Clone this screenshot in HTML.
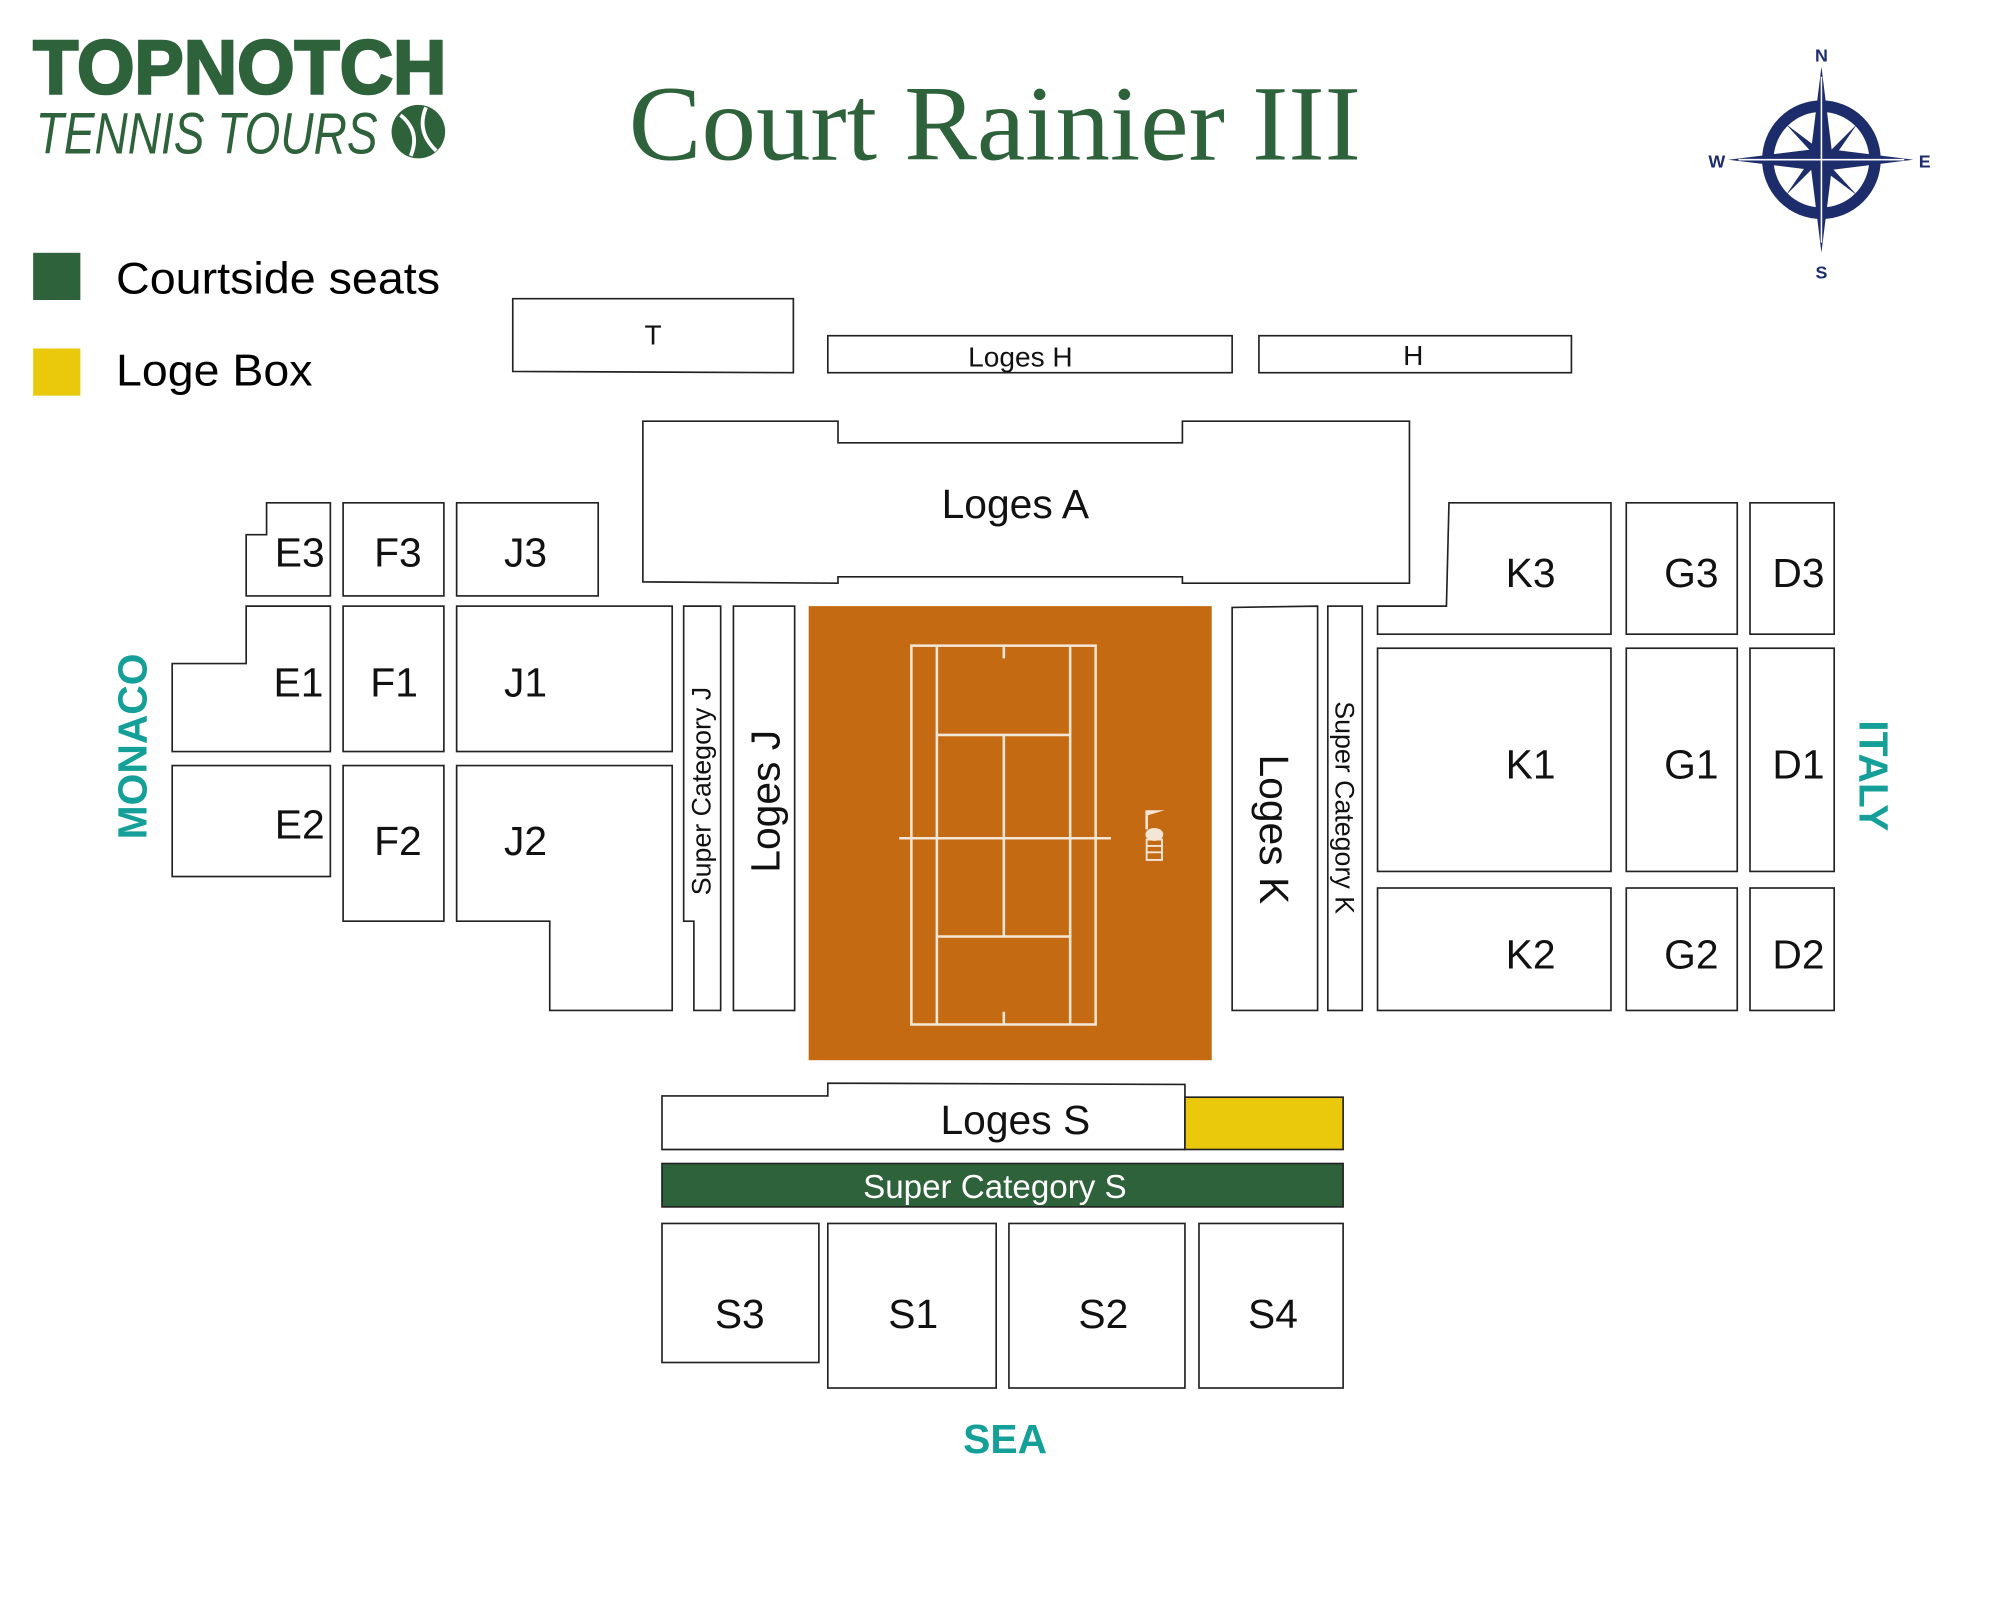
<!DOCTYPE html>
<html><head><meta charset="utf-8"><style>html,body{margin:0;padding:0;background:#fff}svg{display:block}</style></head>
<body>
<svg width="2000" height="1600" viewBox="0 0 1568 1254" xmlns="http://www.w3.org/2000/svg" font-family="Liberation Sans, sans-serif">
<rect width="1568" height="1254" fill="#fff"/>
<!-- logo -->
<text x="26" y="73" font-size="60" font-weight="bold" fill="#2e623b" textLength="324" lengthAdjust="spacingAndGlyphs" stroke="#2e623b" stroke-width="2">TOPNOTCH</text>
<text x="28" y="120" font-size="46" font-style="italic" fill="#2e623b" textLength="268" lengthAdjust="spacingAndGlyphs" style="font-weight:100">TENNIS TOURS</text>
<circle cx="328" cy="103" r="21" fill="#2e623b"/>
<path d="M314,90 Q330,103 322,122 M334,84 Q326,103 342,118" stroke="#fff" stroke-width="3" fill="none"/>
<!-- title -->
<text x="780" y="125" font-size="84" font-family="Liberation Serif, serif" fill="#2e623b" text-anchor="middle" textLength="574" lengthAdjust="spacingAndGlyphs">Court Rainier III</text>
<!-- compass -->
<g fill="#1d2d6b">
<circle cx="1428" cy="125" r="42" fill="none" stroke="#1d2d6b" stroke-width="9"/>
<polygon points="1428,52 1436,117 1500,125 1436,133 1428,198 1420,133 1355,125 1420,117"/>
<polygon points="1400,97 1432,121 1456,97 1434,129 1456,153 1424,129 1400,153 1422,121" />
<path d="M1428,60 L1428,190 M1363,125 L1493,125" stroke="#fff" stroke-width="1.2"/>
<text x="1428" y="48" font-size="14" font-weight="bold" text-anchor="middle">N</text>
<text x="1428" y="218" font-size="14" font-weight="bold" text-anchor="middle">S</text>
<text x="1346" y="131" font-size="14" font-weight="bold" text-anchor="middle">W</text>
<text x="1509" y="131" font-size="14" font-weight="bold" text-anchor="middle">E</text>
</g>
<!-- legend -->
<rect x="26" y="198" width="37" height="37" fill="#2e623b"/>
<text x="91" y="230" font-size="35" textLength="254" lengthAdjust="spacingAndGlyphs">Courtside seats</text>
<rect x="26" y="273" width="37" height="37" fill="#eac90d"/>
<text x="91" y="302" font-size="35" textLength="154" lengthAdjust="spacingAndGlyphs">Loge Box</text>
<!-- sections -->
<g fill="#fff" stroke="#222" stroke-width="1.3">
<polygon points="402,234 622,234 622,292 402,291"/>
<rect x="649" y="263" width="317" height="29"/>
<rect x="987" y="263" width="245" height="29"/>
<polygon points="504,330 657,330 657,347 927,347 927,330 1105,330 1105,457 927,457 927,452 657,452 657,457 504,456"/>
<polygon points="209,394 259,394 259,467 193,467 193,419 209,419"/>
<rect x="269" y="394" width="79" height="73"/>
<rect x="358" y="394" width="111" height="73"/>
<polygon points="193,475 259,475 259,589 135,589 135,520 193,520"/>
<rect x="269" y="475" width="79" height="114"/>
<rect x="358" y="475" width="169" height="114"/>
<rect x="135" y="600" width="124" height="87"/>
<rect x="269" y="600" width="79" height="122"/>
<polygon points="358,600 527,600 527,792 431,792 431,722 358,722"/>
<polygon points="536,475 565,475 565,792 544,792 544,722 536,722"/>
<rect x="575" y="475" width="48" height="317"/>
<polygon points="966,476 1033,475 1033,792 966,792"/>
<rect x="1041" y="475" width="27" height="317"/>
<polygon points="1136,394 1263,394 1263,497 1080,497 1080,475 1134,475"/>
<rect x="1275" y="394" width="87" height="103"/>
<rect x="1372" y="394" width="66" height="103"/>
<rect x="1080" y="508" width="183" height="175"/>
<rect x="1275" y="508" width="87" height="175"/>
<rect x="1372" y="508" width="66" height="175"/>
<rect x="1080" y="696" width="183" height="96"/>
<rect x="1275" y="696" width="87" height="96"/>
<rect x="1372" y="696" width="66" height="96"/>
<polygon points="519,859 649,859 649,849 929,850 929,901 519,901"/>
<rect x="929" y="860" width="124" height="41" fill="#eac90d"/>
<rect x="519" y="912" width="534" height="34" fill="#2e623b"/>
<rect x="519" y="959" width="123" height="109"/>
<rect x="649" y="959" width="132" height="129"/>
<rect x="791" y="959" width="138" height="129"/>
<rect x="940" y="959" width="113" height="129"/>
</g>
<!-- court -->
<rect x="634" y="475" width="316" height="356" fill="#c46a13"/>
<g stroke="#f3e6d6" stroke-width="2" fill="none">
<rect x="714.5" y="506" width="144.5" height="297"/>
<path d="M734.5,506 V803 M839,506 V803 M734.5,576 H839 M734.5,734 H839 M787,576 V734 M705,657 H871 M787,506 V516 M787,793 V803"/>
</g>
<g fill="#f3e6d6">
<path d="M898,635 L913,635 L900,639 L900,650 L898,650Z"/>
<ellipse cx="905" cy="654" rx="7" ry="5"/>
<rect x="899" y="658" width="12" height="16" fill="none" stroke="#f3e6d6" stroke-width="1.5"/>
<path d="M899,663 H911 M899,668 H911" stroke="#f3e6d6" stroke-width="1.5"/>
</g>
<!-- labels -->
<g font-size="32" text-anchor="middle" fill="#111">
<text x="512" y="270" font-size="22">T</text>
<text x="800" y="287" font-size="22">Loges H</text>
<text x="1108" y="286" font-size="22">H</text>
<text x="796" y="406">Loges A</text>
<text x="235" y="444">E3</text><text x="312" y="444">F3</text><text x="412" y="444">J3</text>
<text x="234" y="546">E1</text><text x="309" y="546">F1</text><text x="412" y="546">J1</text>
<text x="235" y="657">E2</text><text x="312" y="670">F2</text><text x="412" y="670">J2</text>
<text x="1200" y="460">K3</text><text x="1326" y="460">G3</text><text x="1410" y="460">D3</text>
<text x="1200" y="610">K1</text><text x="1326" y="610">G1</text><text x="1410" y="610">D1</text>
<text x="1200" y="759">K2</text><text x="1326" y="759">G2</text><text x="1410" y="759">D2</text>
<text x="796" y="889">Loges S</text>
<text x="780" y="939" font-size="26" fill="#fff">Super Category S</text>
<text x="580" y="1041">S3</text><text x="716" y="1041">S1</text><text x="865" y="1041">S2</text><text x="998" y="1041">S4</text>
<text transform="translate(611,628) rotate(-90)">Loges J</text>
<text transform="translate(557,620) rotate(-90)" font-size="21">Super Category J</text>
<text transform="translate(988,650) rotate(90)">Loges K</text>
<text transform="translate(1047,633) rotate(90)" font-size="21">Super Category K</text>
</g>
<g fill="#14a098" font-weight="bold" font-size="32" text-anchor="middle">
<text transform="translate(115,585) rotate(-90)">MONACO</text>
<text transform="translate(1458,608) rotate(90)">ITALY</text>
<text x="788" y="1139">SEA</text>
</g>
</svg>
</body></html>
